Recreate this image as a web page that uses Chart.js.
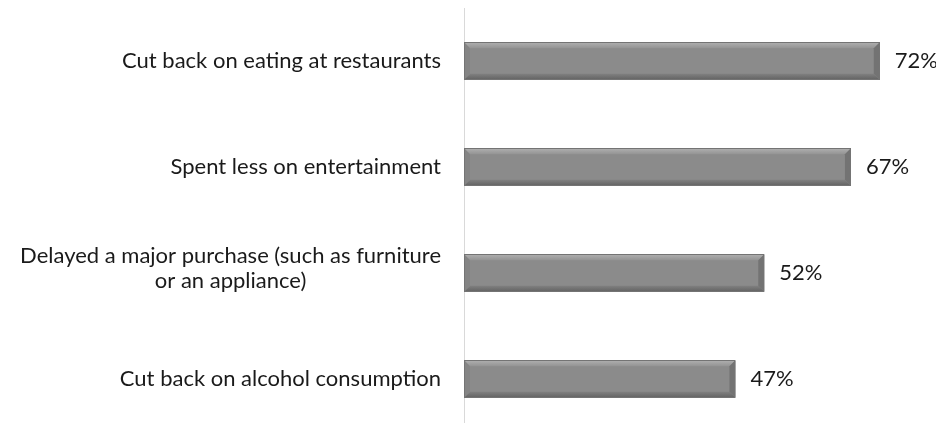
<!DOCTYPE html>
<html>
<head>
<meta charset="utf-8">
<script src="https://cdn.jsdelivr.net/npm/chart.js@4.4.1/dist/chart.umd.min.js"></script>
<style>
    html, body { margin: 0; padding: 0; background: #fff; overflow: hidden; }
    #wrap { position: absolute; left: 0; top: 0; width: 936px; height: 432px; }
</style>
</head>
<body>
<div id="wrap"><canvas id="chartSpending"></canvas></div>
<script>
// Chart data
const categories = [
    ['Cut back on eating at restaurants'],
    ['Spent less on entertainment'],
    ['Delayed a major purchase (such as furniture', 'or an appliance)'],
    ['Cut back on alcohol consumption']
];
const percentValues = [72, 67, 52, 47];

const FONT = '22px Lato, "Open Sans", sans-serif';
const TEXT_COLOR = '#1a1a1a';

// Category labels: block right-aligned to the axis, wrapped lines centered (like Excel)
const categoryLabelPlugin = {
    id: 'categoryLabels',
    afterDraw(chart) {
        const ctx = chart.ctx;
        const yScale = chart.scales.y;
        const right = chart.chartArea.left - 23;
        const lineHeight = 25;
        ctx.save();
        ctx.font = FONT;
        ctx.fillStyle = TEXT_COLOR;
        ctx.textAlign = 'center';
        ctx.textBaseline = 'middle';
        categories.forEach(function (lines, i) {
            const y = yScale.getPixelForTick(i);
            const maxW = Math.max.apply(null, lines.map(l => ctx.measureText(l).width));
            const cx = right - maxW / 2;
            const startY = y - (lines.length - 1) * lineHeight / 2 - (lines.length > 1 ? 5 : 0);
            lines.forEach(function (line, j) {
                ctx.fillText(line, cx, startY + j * lineHeight);
            });
        });
        ctx.restore();
    }
};

// Bevelled bars + value labels
const bevelPlugin = {
    id: 'bevelBars',
    afterDatasetsDraw(chart) {
        const ctx = chart.ctx;
        const meta = chart.getDatasetMeta(0);
        const b = 6;
        ctx.save();
        meta.data.forEach(function (bar, i) {
            const x0 = bar.base, x1 = bar.x;
            const y0 = bar.y - bar.height / 2, y1 = bar.y + bar.height / 2;

            // top highlight
            let g = ctx.createLinearGradient(0, y0, 0, y0 + b);
            g.addColorStop(0, '#b0b0b0');
            g.addColorStop(1, '#949494');
            ctx.fillStyle = g;
            ctx.beginPath();
            ctx.moveTo(x0, y0); ctx.lineTo(x1, y0); ctx.lineTo(x1 - b, y0 + b); ctx.lineTo(x0 + b, y0 + b);
            ctx.closePath(); ctx.fill();

            // bottom shadow
            g = ctx.createLinearGradient(0, y1 - b, 0, y1);
            g.addColorStop(0, '#808080');
            g.addColorStop(1, '#626262');
            ctx.fillStyle = g;
            ctx.beginPath();
            ctx.moveTo(x0, y1); ctx.lineTo(x1, y1); ctx.lineTo(x1 - b, y1 - b); ctx.lineTo(x0 + b, y1 - b);
            ctx.closePath(); ctx.fill();

            // left end
            ctx.fillStyle = '#848484';
            ctx.beginPath();
            ctx.moveTo(x0, y0); ctx.lineTo(x0 + b, y0 + b); ctx.lineTo(x0 + b, y1 - b); ctx.lineTo(x0, y1);
            ctx.closePath(); ctx.fill();

            // right end
            ctx.fillStyle = '#737373';
            ctx.beginPath();
            ctx.moveTo(x1, y0); ctx.lineTo(x1 - b, y0 + b); ctx.lineTo(x1 - b, y1 - b); ctx.lineTo(x1, y1);
            ctx.closePath(); ctx.fill();

            // outline
            ctx.strokeStyle = '#747474';
            ctx.lineWidth = 1;
            ctx.strokeRect(Math.round(x0) + 0.5, Math.round(y0) + 0.5, Math.round(x1 - x0) - 1, Math.round(y1 - y0) - 1);

            // value label
            ctx.font = FONT;
            ctx.fillStyle = TEXT_COLOR;
            ctx.textAlign = 'left';
            ctx.textBaseline = 'middle';
            ctx.fillText(percentValues[i] + '%', x1 + 15, bar.y);
        });
        ctx.restore();
    }
};

function initChartSpending() {
    const ctx = document.getElementById('chartSpending');
    if (!ctx) return;

    new Chart(ctx, {
        type: 'bar',
        data: {
            labels: categories,
            datasets: [{
                data: percentValues,
                backgroundColor: '#8b8b8b',
                borderWidth: 0,
                categoryPercentage: 1,
                barPercentage: 0.355
            }]
        },
        options: {
            indexAxis: 'y',
            responsive: true,
            maintainAspectRatio: false,
            animation: false,
            layout: { padding: { top: 8, right: 10, bottom: 0, left: 0 } },
            plugins: {
                legend: { display: false },
                tooltip: { enabled: false }
            },
            scales: {
                x: {
                    display: false,
                    min: 0,
                    max: 80
                },
                y: {
                    grid: { display: false },
                    border: { display: true, color: '#d9d9d9', width: 1 },
                    ticks: { display: false },
                    afterFit: function (scale) { scale.width = 464; }
                }
            }
        },
        plugins: [categoryLabelPlugin, bevelPlugin]
    });
}

document.addEventListener('DOMContentLoaded', function () {
    initChartSpending();
});
</script>
</body>
</html>
